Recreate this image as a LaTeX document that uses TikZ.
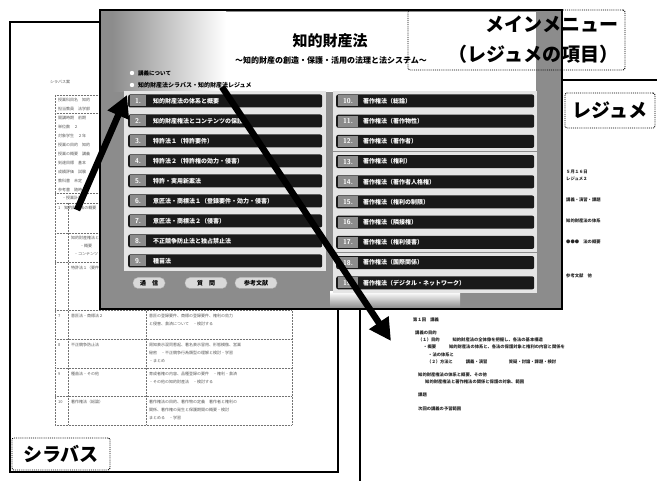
\documentclass[tikz,border=0pt]{standalone}
\usepackage{fontspec}
\newfontfamily\cjk{Noto Sans CJK JP}
\usetikzlibrary{arrows.meta}
\begin{document}
\begin{tikzpicture}[x=1pt,y=-1pt,
  pageline/.style={draw=black, line width=1.3pt},
  gridline/.style={draw=black!55, densely dotted, line width=0.5pt},
  syltext/.style={font=\cjk\fontsize{4}{4}\selectfont, text=black!65, inner sep=0pt, anchor=west},
  restext/.style={font=\cjk\bfseries\fontsize{4.3}{4.3}\selectfont, text=black!85, inner sep=0pt, anchor=west},
  stripe/.style={fill=black!10},
  bar/.style={fill=black!90, rounded corners=2pt, minimum height=13pt, inner sep=0pt, anchor=west},
  barnum/.style={fill=black!45, text=white, font=\sffamily\bfseries\fontsize{7}{7}\selectfont, minimum height=11pt, inner sep=0pt},
  bartext/.style={text=white, font=\cjk\bfseries\fontsize{6}{6}\selectfont, anchor=west, inner sep=0pt},
  menubtn/.style={fill=black!15, draw=black!30, rounded corners=5pt, font=\cjk\bfseries\fontsize{6}{6}\selectfont, minimum height=11pt, inner sep=1pt},
  labelbox/.style={draw=black, densely dotted, line width=0.9pt, rounded corners=2pt, font=\cjk\bfseries\fontsize{19}{30}\selectfont},
  bigarrow/.style={line width=6.5pt, -{Triangle[length=22pt,width=22pt]}}
]
\useasboundingbox (0,0) rectangle (657,481);
\fill[white] (0,0) rectangle (657,481);

% ---------- syllabus page ----------
\draw[pageline] (10,22) rectangle (338,472);
\node[syltext] (syltitle) at (50,82) {シラバス案};
\foreach \yy in {95,113,193,203,233,262,310,339,368,396,425}
  \draw[gridline] (55,\yy) -- (292,\yy);
\draw[gridline] (55,95) -- (55,425);
\draw[gridline] (292,95) -- (292,425);
\draw[gridline] (68,203) -- (68,425);
\draw[gridline] (146,203) -- (146,425);
\foreach \yy/\t [count=\k] in {100/{授業科目名　知的},109/{担当教員　法学部},118/{開講時期　前期},127/{単位数　２},136/{対象学生　２年},145/{授業の目的　知的},154/{授業の概要　講義},163/{到達目標　基本},172/{成績評価　試験},181/{教科書　未定},190/{参考書　随時},198/{　・授業計画}}
  \node[syltext] (sy\k) at (58,\yy) {\t};
\node[syltext] (sr1) at (58,208) {1　知的財産法の概要};
\node[syltext] (sr2) at (71,238) {知的財産権法と};
\node[syltext] (sr2b) at (80,246) {・概要};
\node[syltext] (sr2c) at (74,254) {・コンテンツ};
\node[syltext] (sr3) at (71,268) {特許法１（要件）};
\foreach \yy/\n/\a/\b/\c/\d in {
  310/7/{意匠法・商標法２}/{意匠の登録要件、商標の登録要件、権利の効力}/{と侵害、救済について　・検討する}/{},
  339/8/{不正競争防止法}/{周知表示混同惹起、著名表示冒用、形態模倣、営業}/{秘密　・不正競争行為類型の理解と検討・学習}/{・まとめ},
  368/9/{種苗法・その他}/{育成者権の内容、品種登録の要件　・権利・救済}/{・その他の知的財産法　・検討する}/{},
  396/{10}/{著作権法（総論）}/{著作権法の目的、著作物の定義　著作者と権利の}/{関係、著作権の発生と保護期間の概要・検討}/{まとめる　・学習}}{
  \node[syltext] at (58,\yy+6) {\n};
  \node[syltext] at (71,\yy+6) {\a};
  \node[syltext] at (149,\yy+6) {\b};
  \node[syltext] at (149,\yy+14) {\c};
  \node[syltext] at (149,\yy+22) {\d};
}

% ---------- resume page ----------
\draw[pageline] (360,80) -- (660,80);
\draw[pageline] (360,80) -- (360,484);
\node[restext] (rr1) at (566,172) {５月１６日};
\node[restext] (rr2) at (566,179) {レジュメ２};
\node[restext] (rr3) at (566,200) {講義・演習・課題};
\node[restext] (rr4) at (566,221) {知的財産法の体系};
\node[restext] (rr5) at (566,242) {●●●　法の概要};
\node[restext] (rr6) at (566,276) {参考文献　他};
\node[restext] (rl1) at (413,320) {第１回　講義};
\node[restext] (rl2) at (415,333) {講義の目的};
\node[restext] (rl3) at (418,340) {（１）目的　　　知的財産法の全体像を把握し、各法の基本構造};
\node[restext] (rl4) at (423,347) {・概要　　　知的財産法の体系と、各法の保護対象と権利の内容と関係を};
\node[restext] (rl5) at (428,355) {・法の体系と};
\node[restext] (rl6) at (427,362) {（２）方法と　　　講義・演習　　　　　質疑・討論・課題・検討};
\node[restext] (rl7) at (418,375) {知的財産権法の体系と概要、その他};
\node[restext] (rl8) at (425,382) {知的財産権法と著作権法の関係と保護の対象、範囲};
\node[restext] (rl9) at (418,395) {課題};
\node[restext] (rl10) at (418,409) {次回の講義の予習範囲};

% ---------- main menu screenshot ----------
\fill[black!45] (100,10) rectangle (562,309);
\fill[white] (225,12) rectangle (536,92);
\shade[left color=black!45, right color=white] (112,12) rectangle (226,92);
\shade[top color=white, bottom color=black!45] (330,292) rectangle (460,308);
\node[font=\cjk\bfseries\fontsize{15}{15}\selectfont, inner sep=0pt] (title) at (330,41) {知的財産法};
\node[font=\cjk\bfseries\fontsize{8}{8}\selectfont, inner sep=0pt] (subtitle) at (331,60) {～知的財産の創造・保護・活用の法理と法システム～};
\fill[white] (132,73) circle (2.2);
\fill[white] (132,85) circle (2.2);
\node[font=\cjk\bfseries\fontsize{5.5}{5.5}\selectfont, inner sep=0pt, anchor=west] (m1) at (138,73) {講義について};
\node[font=\cjk\bfseries\fontsize{6}{6}\selectfont, inner sep=0pt, anchor=west] (m2) at (138,85) {知的財産法シラバス・知的財産法レジュメ};

\foreach \i/\t in {1/{知的財産法の体系と概要},2/{知的財産権法とコンテンツの保護},3/{特許法１（特許要件）},4/{特許法２（特許権の効力・侵害）},5/{特許・実用新案法},6/{意匠法・商標法１（登録要件・効力・侵害）},7/{意匠法・商標法２（侵害）},8/{不正競争防止法と独占禁止法},9/{種苗法}}{
  \pgfmathsetmacro\yy{81+20*\i}
  \fill[stripe] (124,\yy-10) rectangle (326,\yy+10);
  \node[bar, minimum width=194pt] (b\i) at (128,\yy) {};
  \node[barnum, minimum width=16pt] (n\i) at ([xshift=10pt]b\i.west) {\i.};
  \node[bartext] (t\i) at ([xshift=25pt]b\i.west) {\t};
}
\foreach \i/\t in {10/{著作権法（総論）},11/{著作権法（著作物性）},12/{著作権法（著作者）},13/{著作権法（権利）},14/{著作権法（著作者人格権）},15/{著作権法（権利の制限）},16/{著作権法（隣接権）},17/{著作権法（権利侵害）},18/{著作権法（国際関係）},19/{著作権法（デジタル・ネットワーク）}}{
  \pgfmathsetmacro\yy{101+20.2*(\i-10)}
  \fill[stripe] (333,\yy-10) rectangle (537,\yy+10);
  \node[bar, minimum width=198pt] (b\i) at (336,\yy) {};
  \node[barnum, minimum width=20pt] (n\i) at ([xshift=12pt]b\i.west) {\i.};
  \node[bartext] (t\i) at ([xshift=27pt]b\i.west) {\t};
}
\fill[black!45] (124,272) rectangle (326,292);
\node[menubtn, minimum width=32pt] (btn1) at (149,283) {通　信};
\node[menubtn, minimum width=42pt] (btn2) at (206,283) {質　問};
\node[menubtn, minimum width=42pt] (btn3) at (256,283) {参考文献};
\draw[black, line width=2pt] (100,10) rectangle (562,309);

% ---------- labels ----------
\node[labelbox, minimum width=217pt, minimum height=60pt, text width=203pt, align=right, inner xsep=7pt] (lmenu) at (516.5,40) {メインメニュー\\（レジュメの項目）};
\node[labelbox, minimum width=90pt, minimum height=35pt, inner sep=2pt] (lres) at (610,110.5) {レジュメ};
\node[labelbox, minimum width=98pt, minimum height=32pt, inner sep=2pt] (lsyl) at (61,454) {シラバス};

% ---------- arrows ----------
\coordinate (a1s) at (77,210);
\coordinate (a1e) at (127,95);
\coordinate (a2s) at (222,87);
\coordinate (a2e) at (391,341);
\draw[bigarrow] (a1s) -- (a1e);
\draw[bigarrow] (a2s) -- (a2e);
\end{tikzpicture}
\end{document}
